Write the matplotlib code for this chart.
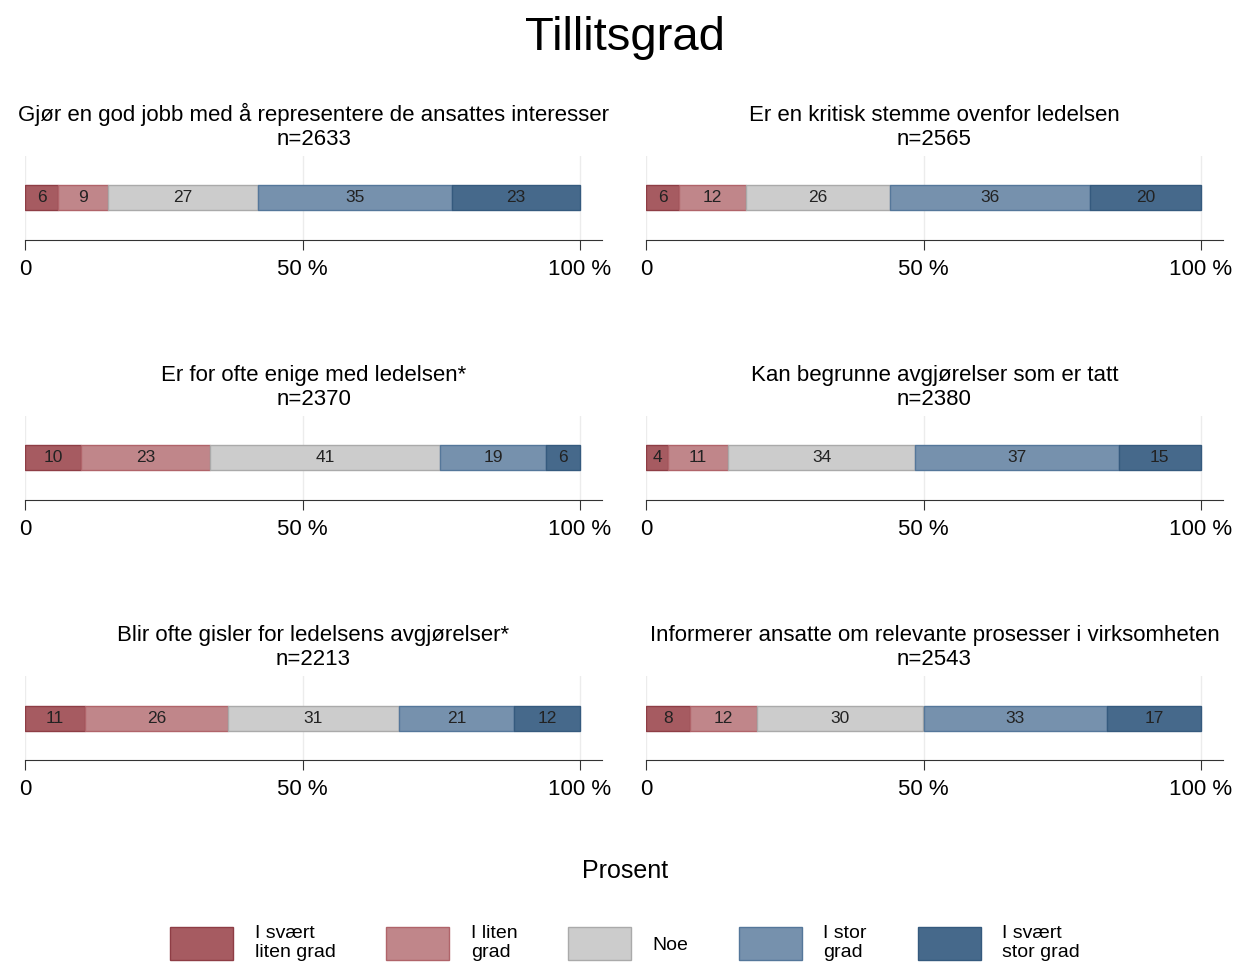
import matplotlib.pyplot as plt
from matplotlib.patches import Patch

plt.rcParams['font.family'] = ['Liberation Sans Narrow', 'Liberation Sans', 'DejaVu Sans']

questions = [
    "Gjør en god jobb med å representere de ansattes interesser",
    "Er en kritisk stemme ovenfor ledelsen",
    "Er for ofte enige med ledelsen*",
    "Kan begrunne avgjørelser som er tatt",
    "Blir ofte gisler for ledelsens avgjørelser*",
    "Informerer ansatte om relevante prosesser i virksomheten",
]
n_values = [2633, 2565, 2370, 2380, 2213, 2543]

svaert_liten = [6, 6, 10, 4, 11, 8]
liten = [9, 12, 23, 11, 26, 12]
noe = [27, 26, 41, 34, 31, 30]
stor = [35, 36, 19, 37, 21, 33]
svaert_stor = [23, 20, 6, 15, 12, 17]

categories = ["I svært\nliten grad", "I liten\ngrad", "Noe", "I stor\ngrad", "I svært\nstor grad"]
colors = ["#A65B61", "#C0868A", "#CCCCCC", "#7691AD", "#46698B"]
edges = ["#8E3D45", "#B0646A", "#AAAAAA", "#55779A", "#355A7E"]

W, H = 1233, 963
fig = plt.figure(figsize=(W / 100, H / 100), dpi=100)

fig.text(625 / W, 1 - 38 / H, "Tillitsgrad", ha='center', va='center', fontsize=34)

series = [svaert_liten, liten, noe, stor, svaert_stor]
lefts_px = [25, 646]
bottoms_px = [240, 500, 760]
ax_w = 577
ax_h = 84
xmax = ax_w / 555 * 100

for i, q in enumerate(questions):
    col = i % 2
    row = i // 2
    ax = fig.add_axes([lefts_px[col] / W, 1 - bottoms_px[row] / H, ax_w / W, ax_h / H])
    total = sum(s[i] for s in series)
    left = 0
    for k, s in enumerate(series):
        v = s[i]
        w = v / total * 100
        ax.barh(42, w, left=left, height=25, color=colors[k], edgecolor=edges[k], linewidth=1)
        ax.text(left + w / 2, 42, str(v), ha='center', va='center', fontsize=12.5, color='#222222')
        left += w
    ax.set_xlim(0, xmax)
    ax.set_ylim(0, ax_h)
    ax.set_xticks([0, 50, 100])
    ax.set_xticklabels(["0", "50 %", "100 %"], fontsize=16)
    ax.set_yticks([])
    ax.grid(axis='x', color='#ececec', linewidth=1)
    ax.set_axisbelow(True)
    for sp in ['top', 'right', 'left']:
        ax.spines[sp].set_visible(False)
    ax.spines['bottom'].set_color('#333333')
    ax.tick_params(axis='x', length=7, color='#333333', pad=7)
    ax.set_title(f"{q}\nn={n_values[i]}", fontsize=16, pad=8, linespacing=1.2)

fig.text(625 / W, 1 - 871 / H, "Prosent", ha='center', va='center', fontsize=18)

handles = [Patch(facecolor=c, edgecolor=e) for c, e in zip(colors, edges)]
fig.legend(handles, categories, loc='center', bbox_to_anchor=(625 / W, 1 - 943 / H),
           ncol=5, frameon=False, fontsize=14, handlelength=3.25, handleheight=2.3,
           columnspacing=2.6, handletextpad=1.1, labelspacing=0.2)

fig.savefig("out.png", dpi=100)
